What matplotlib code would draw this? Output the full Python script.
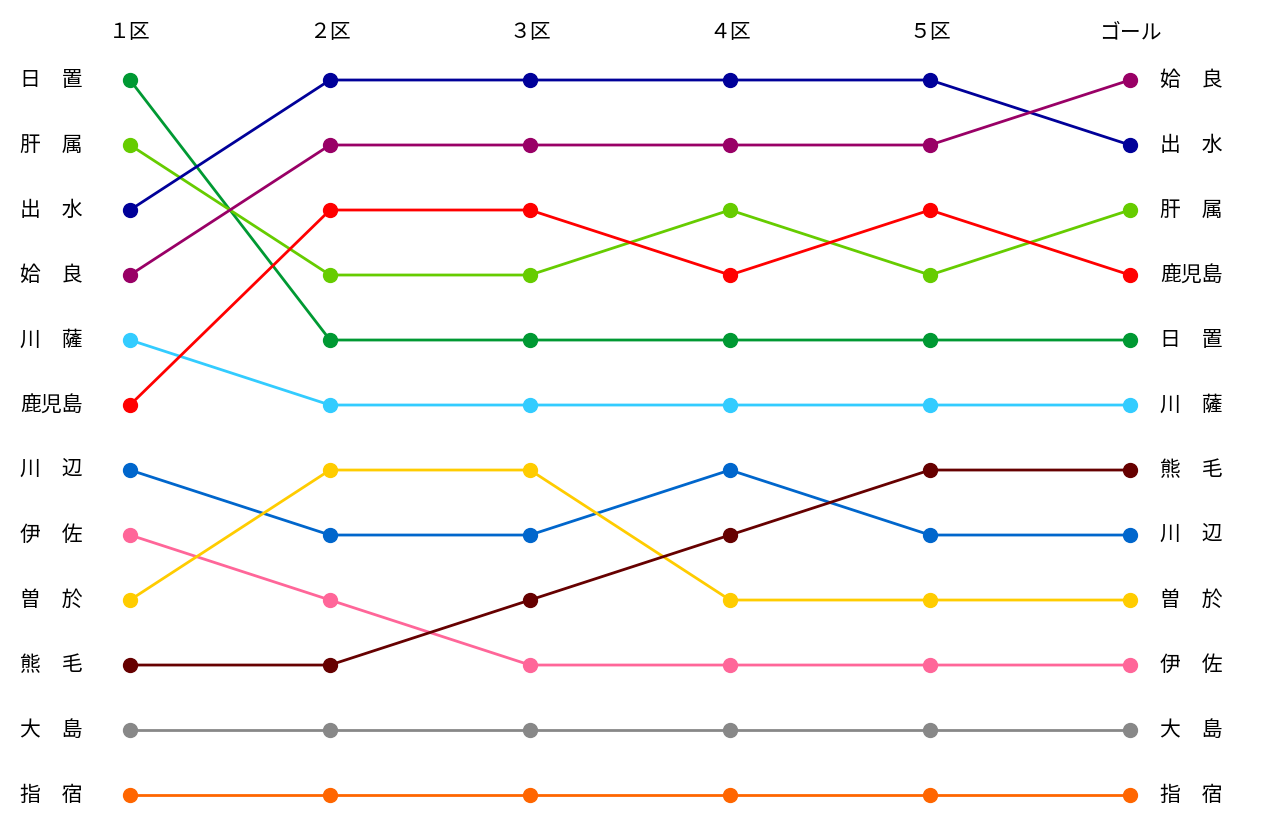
import matplotlib
matplotlib.use("Agg")
import matplotlib.pyplot as plt

plt.rcParams['font.family'] = ['Noto Sans CJK JP', 'DejaVu Sans']

stages = ["１区", "２区", "３区", "４区", "５区", "ゴール"]
teams = ["日　置", "肝　属", "出　水", "姶　良", "川　薩", "鹿児島",
         "川　辺", "伊　佐", "曽　於", "熊　毛", "大　島", "指　宿"]
# rank of each team after each stage
ranks = {
    "日　置": [1, 5, 5, 5, 5, 5],
    "肝　属": [2, 4, 4, 3, 4, 3],
    "出　水": [3, 1, 1, 1, 1, 2],
    "姶　良": [4, 2, 2, 2, 2, 1],
    "川　薩": [5, 6, 6, 6, 6, 6],
    "鹿児島": [6, 3, 3, 4, 3, 4],
    "川　辺": [7, 8, 8, 7, 8, 8],
    "伊　佐": [8, 9, 10, 10, 10, 10],
    "曽　於": [9, 7, 7, 9, 9, 9],
    "熊　毛": [10, 10, 9, 8, 7, 7],
    "大　島": [11, 11, 11, 11, 11, 11],
    "指　宿": [12, 12, 12, 12, 12, 12],
}
colors = ["#009933", "#66cc00", "#000099", "#990066", "#33ccff", "#ff0000",
          "#0066cc", "#ff6699", "#ffcc00", "#660000", "#888888", "#ff6600"]

fig = plt.figure(figsize=(12.8, 8.3), dpi=100)
ax = fig.add_axes([0, 0, 1, 1])
ax.set_xlim(-0.65, 5.75)
ax.set_ylim(12.538, -0.2308)
ax.axis("off")

xs = list(range(len(stages)))
for team, col in zip(teams, colors):
    ax.plot(xs, ranks[team], color=col, lw=2, marker="o", markersize=10, zorder=2)
    ax.text(-0.55, ranks[team][0], team, fontsize=15, va="center", ha="left")
    ax.text(5.15, ranks[team][-1], team, fontsize=15, va="center", ha="left")

for i, s in enumerate(stages):
    ax.text(i, 0.26, s, fontsize=15, va="center", ha="center")

fig.savefig("out.png", dpi=100)
